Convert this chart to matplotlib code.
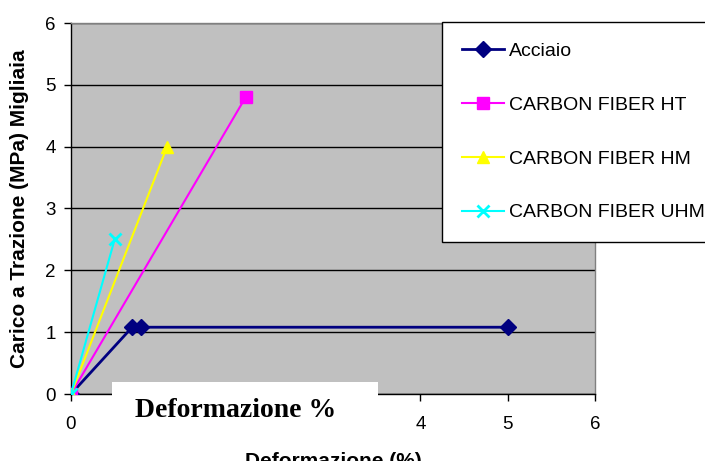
import numpy as np
import matplotlib
matplotlib.use('Agg')
import matplotlib.pyplot as plt
from matplotlib.patches import Rectangle

# series (deformation %, load in thousands of MPa)
acciaio_x = [0, 0.7, 0.8, 5]
acciaio_y = [0, 1.08, 1.08, 1.08]
ht_x = [0, 2.0]
ht_y = [0, 4.8]
hm_x = [0, 1.1]
hm_y = [0, 4.0]
uhm_x = [0, 0.5]
uhm_y = [0, 2.5]

ticks = [0, 1, 2, 3, 4, 5, 6]
# labels 1-3 on the x axis are hidden behind the white box in the original
xtick_labels = ['0', '', '', '', '4', '5', '6']
ytick_labels = ['0', '1', '2', '3', '4', '5', '6']

W, H = 705, 461
fig = plt.figure(figsize=(W / 100, H / 100), dpi=100)
fig.patch.set_facecolor('white')

ax = fig.add_axes([71 / W, (H - 394) / H, 524 / W, 371 / H])
ax.set_facecolor('#C0C0C0')

ax.plot(acciaio_x, acciaio_y, color='#000080', lw=2, marker='D', ms=8,
        mec='#000080', mfc='#000080', label='Acciaio', zorder=3)
ax.plot(ht_x, ht_y, color='#FF00FF', lw=1.5, marker='s', ms=8,
        mec='#FF00FF', mfc='#FF00FF', label='CARBON FIBER HT', zorder=3)
ax.plot(hm_x, hm_y, color='#FFFF00', lw=1.5, marker='^', ms=9,
        mec='#FFFF00', mfc='#FFFF00', label='CARBON FIBER HM', zorder=3)
ax.plot(uhm_x, uhm_y, color='#00FFFF', lw=1.5, marker='x', ms=9, mew=2,
        mec='#00FFFF', label='CARBON FIBER UHM', zorder=3)

ax.set_xlim(0, 6)
ax.set_ylim(0, 6)
ax.set_xticks(ticks)
ax.set_xticklabels(xtick_labels)
ax.set_yticks(ticks)
ax.set_yticklabels(ytick_labels)
ax.tick_params(axis='both', direction='out', length=5, width=1, colors='black',
               labelsize=13.5)
ax.tick_params(axis='x', pad=11)
ax.tick_params(axis='y', pad=6)
for lbl in ax.get_xticklabels() + ax.get_yticklabels():
    lbl.set_family('Liberation Sans')

ax.grid(axis='y', color='black', lw=1, zorder=1)
ax.set_axisbelow(True)
ax.spines['left'].set_color('black')
ax.spines['bottom'].set_color('black')
ax.spines['top'].set_color('#808080')
ax.spines['right'].set_color('#808080')
for s in ax.spines.values():
    s.set_linewidth(1)

fig.text(20 / W, 1 - 209 / H, 'Carico a Trazione (MPa) Migliaia', rotation=90,
         ha='center', va='center', fontsize=15, fontweight='bold',
         family='Liberation Sans')
fig.text(333 / W, 1 - 452 / H, 'Deformazione (%)', ha='center', va='top',
         fontsize=15, fontweight='bold', family='Liberation Sans')

# white box covering part of the x axis
box = Rectangle((112 / W, 1 - 445 / H), (378 - 112) / W, (445 - 382) / H,
                transform=fig.transFigure, facecolor='white', edgecolor='none',
                zorder=2)
fig.patches.append(box)
fig.text(236 / W, 1 - 410 / H, 'Deformazione %', ha='center', va='center',
         fontsize=20, fontweight='bold', family='Liberation Serif', zorder=3)

leg = fig.legend(loc='upper left', bbox_to_anchor=(442 / W, 1 - 22 / H),
                 frameon=True, fancybox=False, edgecolor='black',
                 framealpha=1, labelspacing=1.86, borderpad=1.05,
                 handlelength=2.16, handletextpad=0.22, borderaxespad=0,
                 prop={'family': 'Liberation Sans', 'size': 14})
leg.get_frame().set_linewidth(1)

fig.savefig('out.png', dpi=100)
